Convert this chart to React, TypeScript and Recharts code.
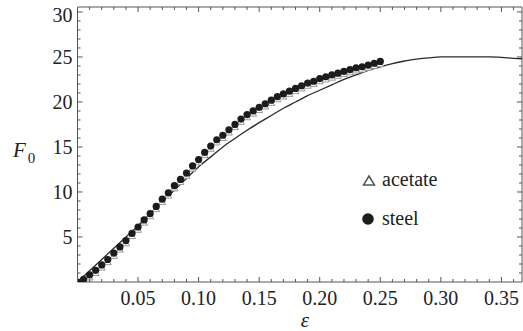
// F0 vs strain: acetate and steel samples against the theory curve
import { ComposedChart, Line, Scatter, XAxis, YAxis, Legend, ReferenceLine } from 'recharts';

const xMajorTicks = [0.05, 0.1, 0.15, 0.2, 0.25, 0.3, 0.35];
const yMajorTicks = [5, 10, 15, 20, 25, 30];

// theory curve F0(eps)
const theoryEps = [0, 0.01, 0.02, 0.03, 0.04, 0.05, 0.06, 0.07, 0.08, 0.09, 0.1, 0.11, 0.12, 0.13, 0.14, 0.15, 0.16, 0.17, 0.18, 0.19, 0.2, 0.21, 0.22, 0.23, 0.24, 0.25, 0.26, 0.27, 0.28, 0.29, 0.3, 0.31, 0.32, 0.33, 0.34, 0.35, 0.36, 0.367];
const theoryF = [0, 1.25, 2.5, 3.75, 5.0, 6.25, 7.6, 8.95, 10.2, 11.5, 12.8, 13.9, 15.0, 15.95, 16.85, 17.7, 18.5, 19.3, 20.0, 20.7, 21.3, 21.9, 22.5, 23.0, 23.5, 23.9, 24.25, 24.55, 24.75, 24.9, 25.0, 25.0, 25.0, 25.0, 25.0, 24.95, 24.85, 24.8];

// measured points
const sampleEps = [0, 0.005, 0.01, 0.015, 0.02, 0.025, 0.03, 0.035, 0.04, 0.045, 0.05, 0.055, 0.06, 0.065, 0.07, 0.075, 0.08, 0.085, 0.09, 0.095, 0.1, 0.105, 0.11, 0.115, 0.12, 0.125, 0.13, 0.135, 0.14, 0.145, 0.15, 0.155, 0.16, 0.165, 0.17, 0.175, 0.18, 0.185, 0.19, 0.195, 0.2, 0.205, 0.21, 0.215, 0.22, 0.225, 0.23, 0.235, 0.24, 0.245, 0.25];
const steelF = [0, 0.3, 0.8, 1.3, 1.9, 2.5, 3.2, 3.9, 4.6, 5.4, 6.1, 6.9, 7.6, 8.4, 9.2, 9.9, 10.7, 11.4, 12.1, 12.9, 13.6, 14.4, 15.1, 15.8, 16.3, 16.9, 17.5, 18.1, 18.6, 19.0, 19.4, 19.8, 20.2, 20.6, 20.9, 21.2, 21.5, 21.8, 22.1, 22.3, 22.6, 22.8, 23.0, 23.2, 23.4, 23.6, 23.8, 23.9, 24.1, 24.3, 24.5];
const acetateF = [0, 0.1, 0.5, 1.0, 1.6, 2.2, 2.9, 3.6, 4.3, 5.1, 5.8, 6.6, 7.3, 8.1, 8.9, 9.6, 10.4, 11.1, 11.8, 12.6, 13.3, 14.1, 14.8, 15.5, 16.0, 16.6, 17.2, 17.8, 18.3, 18.7, 19.1, 19.5, 19.9, 20.3, 20.6, 20.9, 21.2, 21.5, 21.8, 22.0, 22.3, 22.5, 22.7, 22.9, 23.1, 23.3, 23.5, 23.6, 23.8, 24.0, 24.2];

const X_MAX = 0.367;
const Y_MAX = 30.55;

const xTicks: number[] = [];
for (let i = 1; i <= 36; i++) xTicks.push(i / 100);
const yTicks: number[] = [];
for (let i = 1; i <= 30; i++) yTicks.push(i);

const theory = theoryEps.map((x, i) => ({ x, y: theoryF[i] }));
const steel = sampleEps.map((x, i) => ({ x, y: steelF[i] }));
const acetate = sampleEps.map((x, i) => ({ x, y: acetateF[i] }));

const W = 523;
const H = 331;
const M = { top: 7, right: 1, left: 0, bottom: 0 };
const PLOT_TOP = M.top;
const PLOT_RIGHT = W - M.right;

const FRAME = '#555';
const INK = '#222';
const SERIF = "'Liberation Serif', 'DejaVu Serif', serif";

const css = `
.fig text, .fig tspan { font-family: 'Liberation Serif', 'DejaVu Serif', serif !important; }
`;

const isMajorX = (v: number) => xMajorTicks.some((t) => Math.abs(t - v) < 1e-6);
const isMajorY = (v: number) => yMajorTicks.includes(v);

// bottom tick also draws the mirrored tick on the top frame edge
const BottomTick = (p: any) => {
  const major = isMajorX(p.payload.value);
  const len = major ? 5 : 3;
  return (
    <g>
      <line x1={p.x} x2={p.x} y1={p.y} y2={p.y - len} stroke={FRAME} />
      <line x1={p.x} x2={p.x} y1={PLOT_TOP} y2={PLOT_TOP + len} stroke={FRAME} />
      {major && (
        <text x={p.x} y={p.y + 23} textAnchor="middle" fontFamily={SERIF} fontSize={20} fill={INK}>
          {p.payload.value.toFixed(2)}
        </text>
      )}
    </g>
  );
};

// left tick also draws the mirrored tick on the right frame edge
const LeftTick = (p: any) => {
  const major = isMajorY(p.payload.value);
  const len = major ? 5 : 3;
  return (
    <g>
      <line x1={p.x} x2={p.x + len} y1={p.y} y2={p.y} stroke={FRAME} />
      <line x1={PLOT_RIGHT} x2={PLOT_RIGHT - len} y1={p.y} y2={p.y} stroke={FRAME} />
      {major && (
        <text x={p.x - 5} y={Math.max(p.y + 7, 22)} textAnchor="end" fontFamily={SERIF} fontSize={20} fill={INK}>
          {p.payload.value}
        </text>
      )}
    </g>
  );
};

const Triangle = (p: any) => (
  <polygon
    points={`${p.cx},${p.cy - 3.5} ${p.cx + 3.5},${p.cy + 2.5} ${p.cx - 3.5},${p.cy + 2.5}`}
    fill="#fff"
    stroke="#999"
    strokeWidth={1}
  />
);

const Dot = (p: any) => <circle cx={p.cx} cy={p.cy} r={3.6} fill="#1c1c1c" />;

const LegendBox = () => (
  <svg width={100} height={70} style={{ display: 'block' }}>
    <polygon points="14,11 19.5,20 8.5,20" fill="#fff" stroke="#555" strokeWidth={1.5} />
    <text x={27} y={21} fontFamily={SERIF} fontSize={20} fill={INK}>acetate</text>
    <circle cx={13} cy={54} r={5.8} fill="#1c1c1c" />
    <text x={27} y={60} fontFamily={SERIF} fontSize={20} fill={INK}>steel</text>
  </svg>
);

const YLabel = () => (
  <text x={13} y={157} fontFamily={SERIF} fill={INK}>
    <tspan fontSize={21} fontStyle="italic">F</tspan>
    <tspan fontSize={15} dx={2} dy={6}>0</tspan>
  </text>
);

const XLabel = () => (
  <text x={305} y={327} textAnchor="middle" fontFamily={SERIF} fontSize={21} fontStyle="italic" fill={INK}>
    ε
  </text>
);

export default function App() {
  return (
    <div className="fig" style={{ position: 'absolute', left: 0, top: 0, fontFamily: SERIF }}>
      <style>{css}</style>
      <ComposedChart width={W} height={H} margin={M}>
        <XAxis
          xAxisId="b"
          type="number"
          dataKey="x"
          domain={[0, X_MAX]}
          ticks={xTicks}
          interval={0}
          tickSize={0}
          tickMargin={0}
          tickLine={false}
          axisLine={{ stroke: FRAME }}
          height={49}
          tick={<BottomTick />}
          label={<XLabel />}
          allowDataOverflow
        />
        <YAxis
          yAxisId="l"
          type="number"
          domain={[0, Y_MAX]}
          ticks={yTicks}
          interval={0}
          tickSize={0}
          tickMargin={0}
          tickLine={false}
          axisLine={{ stroke: FRAME }}
          width={77.5}
          tick={<LeftTick />}
          label={<YLabel />}
          allowDataOverflow
        />
        {/* top and right edges of the frame */}
        <ReferenceLine xAxisId="b" yAxisId="l" y={Y_MAX} stroke={FRAME} strokeWidth={1} ifOverflow="visible" />
        <ReferenceLine xAxisId="b" yAxisId="l" x={X_MAX} stroke={FRAME} strokeWidth={1} ifOverflow="visible" />
        <Line
          xAxisId="b"
          yAxisId="l"
          data={theory}
          dataKey="y"
          type="monotone"
          stroke="#2a2a2a"
          strokeWidth={1.3}
          dot={false}
          isAnimationActive={false}
        />
        <Scatter xAxisId="b" yAxisId="l" data={acetate} dataKey="y" shape={<Triangle />} isAnimationActive={false} />
        <Scatter xAxisId="b" yAxisId="l" data={steel} dataKey="y" shape={<Dot />} isAnimationActive={false} />
        <Legend
          layout="vertical"
          align="center"
          verticalAlign="middle"
          wrapperStyle={{ position: 'absolute', left: 355, top: 165, width: 100, height: 70 }}
          content={() => <LegendBox />}
        />
      </ComposedChart>
    </div>
  );
}
